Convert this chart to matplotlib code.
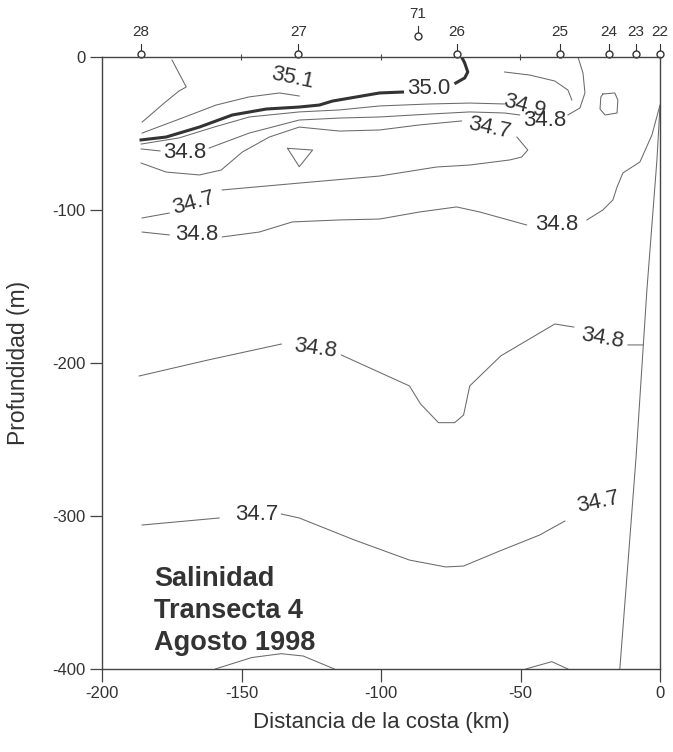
import numpy as np
import matplotlib.pyplot as plt

plt.rcParams['font.family'] = ['Liberation Sans', 'DejaVu Sans']
plt.rcParams['axes.unicode_minus'] = False

nan = np.nan

# Estaciones (km desde la costa)
estaciones = ['28', '27', '71', '26', '25', '24', '23', '22']
x_est = [-186.0, -129.6, -86.9, -72.9, -35.9, -18.3, -8.6, 0.0]
elevada = [False, False, True, False, False, False, False, False]

# Isohalinas (x en km, profundidad en m); nan = hueco para la etiqueta
x_351 = [-174.9, -169.8, -172.4, -177.7, -185.6, nan,
         -185.6, -171.3, -159.1, -147.3, -136.4, -129.3]
y_351 = [-2.0, -19.6, -22.2, -30.1, -42.5, nan,
         -49.7, -39.9, -31.4, -26.1, -23.5, -25.5]

x_350 = [-186.0, -177.0, -165.1, -153.3, -141.1, -129.3, -122.1, -117.4, -100.5, -92.3, nan,
         -73.2, -70.0, -68.9, -70.0, -71.1]
y_350 = [-54.2, -52.3, -45.8, -37.9, -34.0, -32.7, -31.4, -28.8, -23.5, -22.9, nan,
         -17.0, -13.7, -9.8, -3.9, 0.0]

x_349 = [-186.0, -172.4, -159.8, -147.2, -129.3, -114.9, -100.5, -82.6, -68.2, -55.7, nan,
         -55.7, -46.7, -37.7, -33.0, -31.6]
y_349 = [-56.9, -52.9, -45.8, -39.2, -35.9, -34.6, -32.0, -30.7, -30.1, -30.7, nan,
         -9.8, -11.8, -15.7, -21.6, -28.1]

x_348a = [-186.0, -179.2, nan,
          -161.6, -147.2, -129.3, -114.9, -100.5, -82.6, -68.2, -55.7, -50.3, nan,
          -33.0, -28.7, -26.9, -27.6, -29.4]
y_348a = [-60.1, -61.4, nan,
          -59.5, -49.7, -41.2, -39.9, -39.2, -37.3, -35.9, -36.6, -37.9, nan,
          -37.9, -33.3, -23.5, -10.5, 0.0]

x_347a = [-186.0, -177.0, -165.1, -157.3, -149.7, -140.0, -129.3, -114.9, -100.5, -86.2, -71.1, nan,
          -51.3, -47.4, -49.6, -53.9, -68.2, -80.1, -100.5, -129.3, -156.9, nan,
          -175.9, -185.6]
y_347a = [-69.3, -75.2, -77.1, -73.9, -62.1, -52.3, -45.8, -48.4, -47.7, -44.4, -41.8, nan,
          -52.3, -60.8, -65.4, -67.3, -70.6, -71.9, -77.8, -82.4, -86.9, nan,
          -102.0, -105.2]

x_348b = [-185.6, -175.9, nan,
          -156.9, -143.6, -131.8, -114.9, -100.5, -86.2, -72.9, -64.6, -47.8, nan,
          -26.2, -20.5, -16.9, -15.4, -13.3, -7.2, -2.9, 0.0]
y_348b = [-114.4, -116.3, nan,
          -117.6, -114.4, -107.8, -106.5, -105.9, -101.3, -98.0, -101.3, -109.8, nan,
          -106.5, -100.0, -93.5, -85.0, -75.8, -68.6, -51.0, -31.4]

x_348c = [-186.7, -161.9, -135.7, nan,
          -114.2, -89.8, -85.8, -79.4, -73.6, -70.4, -68.2, -57.1, -37.7, -30.9, nan,
          -11.5, -6.1]
y_348c = [-208.5, -198.0, -187.6, nan,
          -194.8, -215.0, -226.8, -239.0, -239.0, -234.0, -215.0, -195.4, -174.5, -176.5, nan,
          -188.2, -188.2]

x_347b = [-185.6, -158.0, nan,
          -135.7, -129.3, -109.5, -89.8, -76.8, -70.4, -57.5, -43.1, -34.1]
y_347b = [-305.9, -301.3, nan,
          -298.7, -301.3, -315.7, -328.8, -333.3, -332.7, -322.9, -312.4, -303.3]

x_costa = [0.0, -1.1, -4.7, -8.6, -14.4]
y_costa = [-32.0, -67.3, -152.3, -262.0, -400.0]

x_caja = [-20.5, -16.2, -15.1, -15.4, -19.7, -21.5, -21.2, -20.5]
y_caja = [-24.2, -23.5, -28.1, -36.6, -37.9, -34.0, -26.1, -24.2]

x_tri = [-133.5, -124.5, -129.3, -133.5]
y_tri = [-59.7, -60.8, -71.7, -59.7]

x_fondo1 = [-159.4, -146.3, -135.8, -127.9, -116.7]
y_fondo1 = [-400.0, -392.5, -390.0, -391.5, -400.0]
x_fondo2 = [-48.1, -38.8, -33.0]
y_fondo2 = [-400.0, -395.2, -400.0]

# Etiquetas de las isohalinas: texto, x, y, rotación
etiquetas = [
    ('35.1', -131.8, -13.7, -12),
    ('35.0', -82.9, -20.3, 0),
    ('34.9', -48.5, -32.0, -15),
    ('34.8', -41.3, -41.2, 0),
    ('34.7', -61.0, -46.4, -12),
    ('34.8', -170.2, -62.1, 0),
    ('34.7', -167.0, -95.4, 15),
    ('34.8', -166.2, -116.3, 0),
    ('34.8', -37.0, -109.2, 0),
    ('34.8', -123.5, -190.8, -8),
    ('34.8', -20.5, -183.7, -10),
    ('34.7', -144.7, -298.7, 0),
    ('34.7', -22.3, -290.8, 12),
]

gris = '#6a6a6a'
oscuro = '#333333'

fig = plt.figure(figsize=(6.73, 7.52), dpi=100)
ax = fig.add_axes([102 / 673, 1 - 669 / 752, 558 / 673, 612 / 752])

for xs, ys in [(x_351, y_351), (x_349, y_349), (x_348a, y_348a), (x_347a, y_347a),
               (x_348b, y_348b), (x_348c, y_348c), (x_347b, y_347b), (x_costa, y_costa),
               (x_caja, y_caja), (x_tri, y_tri), (x_fondo1, y_fondo1), (x_fondo2, y_fondo2)]:
    ax.plot(xs, ys, color=gris, lw=0.75)

ax.plot(x_350, y_350, color=oscuro, lw=2.2)

for txt, xx, yy, rot in etiquetas:
    ax.text(xx, yy, txt, fontsize=16, color=oscuro, rotation=rot,
            ha='center', va='center')

ax.text(-181.3, -333, 'Salinidad\nTransecta 4\nAgosto 1998', fontsize=19.5,
        fontweight='bold', color=oscuro, ha='left', va='top', linespacing=1.28)

# Estaciones sobre el eje superior
for nom, xe, alta in zip(estaciones, x_est, elevada):
    yc = 13.7 if alta else 2.0
    ax.plot([xe, xe], [yc + 2.5, yc + 6.5], color=oscuro, lw=0.8, clip_on=False)
    ax.plot(xe, yc, 'o', ms=5, mfc='white', mec=oscuro, mew=1.0, clip_on=False)
    ax.text(xe, yc + 14.5, nom, fontsize=11, color=oscuro, ha='center', va='center')

ax.set_xlim(-200, 0)
ax.set_ylim(-400, 0)
ax.set_xticks([-200, -150, -100, -50, 0])
ax.set_yticks([0, -100, -200, -300, -400])
ax.tick_params(axis='both', direction='out', length=9, width=0.9, color='#444444',
               labelsize=12, labelcolor=oscuro, pad=3)
top = ax.secondary_xaxis('top')
top.set_xticks([-150, -100, -50])
top.tick_params(direction='inout', length=5, width=0.8, color='#444444', labeltop=False)
top.spines['top'].set_visible(False)

for s in ax.spines.values():
    s.set_color('#444444')
    s.set_linewidth(1.0)

ax.set_xlabel('Distancia de la costa (km)', fontsize=16, color=oscuro, labelpad=8)
ax.set_ylabel('Profundidad (m)', fontsize=16.5, color=oscuro, labelpad=16)

fig.savefig('out.png', dpi=100, facecolor='white')
